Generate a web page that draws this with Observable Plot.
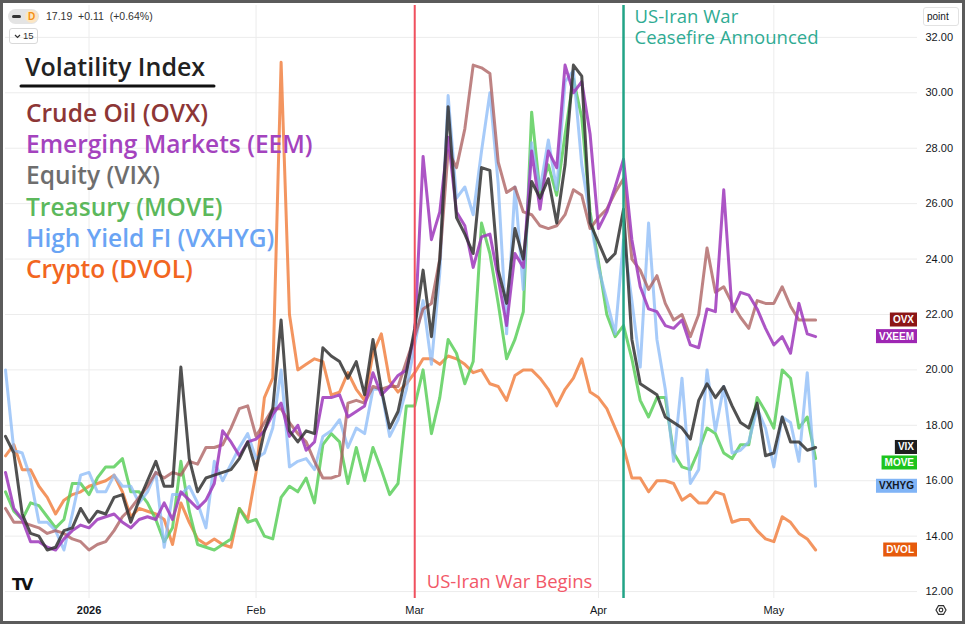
<!DOCTYPE html>
<html><head><meta charset="utf-8">
<script src="https://cdn.jsdelivr.net/npm/d3@7"></script>
<script src="https://cdn.jsdelivr.net/npm/@observablehq/plot@0.6"></script>
<style>
html,body{margin:0;padding:0;background:#fff;}
#wrap{position:relative;width:965px;height:624px;overflow:hidden;background:#fff;font-family:"Liberation Sans",Arial,sans-serif;color:#131722;}
#chart{position:absolute;left:0;top:0;}
.ui{position:absolute;}
#border{position:absolute;left:0;top:0;width:965px;height:624px;box-sizing:border-box;border:3px solid #5b5b5b;pointer-events:none;}
</style></head><body>
<div id="wrap">
<div id="chart"></div>
<div class="ui" style="left:8px;top:9px;width:31px;height:15px;border-radius:8px;background:#e4e4e4;"></div>
<div class="ui" style="left:12px;top:15px;width:9px;height:3px;border-radius:2px;background:#333;"></div>
<div class="ui" style="left:25px;top:10px;width:13px;height:13px;border-radius:7px;background:#fbe6c4;"></div>
<div class="ui" style="left:28px;top:10px;font-size:10px;font-weight:bold;color:#f59114;line-height:13px;">D</div>
<div class="ui" style="left:46px;top:10px;font-size:10.5px;color:#333;line-height:13px;white-space:pre;">17.19  +0.11  (+0.64%)</div>
<div class="ui" style="left:9px;top:28px;width:29px;height:16px;border:1px solid #d9d9d9;border-radius:3px;box-sizing:border-box;"></div>
<svg class="ui" style="left:14px;top:34px" width="7" height="5"><path d="M1 1 L3.5 3.5 L6 1" stroke="#333" stroke-width="1.2" fill="none"/></svg>
<div class="ui" style="left:23px;top:30px;font-size:9.5px;color:#333;line-height:12px;">15</div>
<div class="ui" style="left:923px;top:7px;width:36px;height:19px;border:1px solid #e2e2e2;border-radius:3px;box-sizing:border-box;font-size:10px;line-height:17px;padding-left:3px;color:#131722;">point</div>
<div id="border"></div>
</div>
<script>
// ---- data (trading-day index 0 = Dec 17 2025 ... 97 = May 8 2026) ----
const OVX = [15.0,14.5,14.5,14.4,14.3,14.1,14.2,14.1,13.9,13.8,
13.5,13.7,13.8,14.2,14.7,15.0,15.4,15.8,16.3,16.1,
16.3,16.2,16.7,16.6,17.2,17.2,17.3,17.9,18.6,18.7,
17.6,18.1,18.6,18.6,18.1,17.7,17.4,16.7,16.1,16.1,
16.2,18.8,18.9,18.8,19.4,19.3,19.4,19.4,20.3,21.2,
22.2,22.4,24.0,27.9,27.3,28.7,31.0,30.9,30.7,27.5,
26.4,26.6,25.7,25.6,25.2,25.1,25.2,25.6,26.5,26.3,
25.1,25.5,25.8,26.4,26.9,24.0,23.6,22.9,23.4,22.4,
21.8,22.0,21.2,22.0,24.4,22.8,23.0,22.4,21.9,21.5,
22.5,22.4,22.4,23.0,22.3,21.8,21.8,21.8];
const VXEEM = [16.3,15.0,14.6,13.8,13.8,13.6,13.5,13.9,14.2,14.4,
14.3,14.6,14.7,14.8,14.5,14.3,14.6,14.7,14.6,15.2,
14.6,15.6,15.3,15.0,15.3,15.9,17.8,17.4,16.9,17.4,
17.5,17.8,18.4,18.8,17.6,18.0,17.1,17.4,19.0,19.0,
19.1,18.3,18.5,18.7,19.9,19.1,19.4,19.8,20.0,21.3,
27.7,24.7,25.7,28.4,25.7,25.2,23.7,24.8,24.9,23.3,
21.6,24.2,23.7,27.9,25.8,27.9,27.3,31.0,30.0,30.4,
28.5,25.1,25.7,26.6,27.6,24.7,23.0,22.2,22.1,21.6,
21.5,21.8,20.9,20.8,22.2,22.1,26.5,22.1,22.8,22.7,
22.2,21.5,20.9,21.2,20.6,22.4,21.3,21.2];
const VIX = [17.6,17.0,14.8,14.1,14.0,13.5,13.6,14.2,14.3,15.0,
14.5,14.9,14.8,15.4,15.5,14.5,15.3,16.0,16.7,15.8,
15.8,20.1,16.8,15.6,16.1,16.2,16.3,16.4,16.8,17.4,
16.4,17.8,18.6,21.8,17.8,17.4,17.8,17.7,20.8,20.5,
20.3,19.7,20.3,19.1,21.1,19.3,17.9,18.5,19.9,21.5,
23.6,21.2,24.0,29.5,25.5,24.9,24.2,27.3,27.2,23.6,
22.4,25.1,24.0,26.8,26.2,26.9,25.3,27.4,31.0,30.6,
25.3,24.6,23.9,24.2,25.8,21.1,19.5,19.3,19.1,18.3,
18.1,17.9,17.5,18.9,19.5,19.0,19.4,18.7,18.1,17.9,
18.8,16.9,17.0,18.3,17.4,17.4,17.1,17.2];
const MOVE = [15.6,14.9,14.6,15.2,15.1,14.7,14.3,14.6,15.9,15.9,
15.5,16.1,16.5,16.5,16.8,15.6,15.6,15.2,14.6,13.8,
14.3,16.7,14.9,13.7,13.6,13.5,13.7,13.9,15.0,14.5,
14.6,14.0,13.9,15.4,15.8,15.6,16.1,15.2,17.3,17.7,
17.4,15.9,17.2,16.0,17.2,16.4,15.5,15.9,18.7,18.7,
20.0,17.7,19.0,21.1,20.6,19.5,20.3,25.3,24.2,22.4,
20.4,21.1,22.1,29.3,26.4,27.4,26.3,28.5,30.5,29.1,
25.7,23.9,22.0,21.2,21.6,20.4,18.9,18.3,19.0,19.0,
17.0,16.5,16.4,17.1,17.9,17.7,17.0,16.8,17.3,17.3,
19.0,18.5,17.9,20.0,19.7,17.9,18.3,16.8];
const VXHYG = [20.0,17.1,17.0,16.1,14.5,14.5,14.2,13.5,14.8,16.2,
16.3,15.6,15.6,16.2,15.8,15.8,15.2,15.6,16.3,13.6,
15.5,15.5,15.8,15.2,14.3,16.7,16.0,16.6,17.2,17.7,
16.8,17.0,17.9,20.0,16.5,16.7,16.8,16.4,17.6,17.8,
18.2,17.2,17.9,17.7,19.3,19.3,17.6,18.2,19.3,20.9,
22.5,20.2,23.5,29.9,26.2,26.6,25.6,27.9,30.0,26.7,
21.3,26.6,22.9,28.2,26.5,28.3,26.5,30.4,30.8,27.4,
25.5,23.7,22.5,21.3,24.7,22.5,20.1,25.3,21.1,19.3,
16.7,19.7,15.9,16.4,20.0,17.8,19.4,17.0,17.1,17.4,
18.6,17.9,16.5,18.3,18.1,16.7,19.9,15.8];
const DVOL = [16.9,17.3,16.4,16.4,15.8,15.4,14.8,15.3,15.5,15.6,
15.8,15.9,16.0,16.2,15.6,14.7,15.0,14.9,14.8,14.6,
13.7,15.2,14.5,13.9,13.7,13.9,13.7,13.6,15.0,14.6,
16.3,19.0,19.7,31.1,22.0,20.0,20.2,20.4,20.3,19.1,
19.2,19.9,19.3,18.9,20.6,21.3,19.6,19.2,19.5,19.9,
20.4,20.4,20.2,20.5,20.4,20.2,19.9,20.0,19.5,19.4,
18.9,19.8,20.0,20.0,19.7,19.3,18.7,19.3,19.7,20.4,
19.2,19.0,18.6,17.9,17.2,16.1,16.1,15.6,16.0,16.0,
15.9,15.3,15.5,15.2,15.2,15.6,15.5,14.5,14.6,14.6,
14.2,13.9,13.8,14.7,14.5,14.1,13.9,13.5];

const seriesValues = [OVX, VXEEM, VIX, MOVE, VXHYG, DVOL];
const seriesTags   = ["OVX","VXEEM","VIX","MOVE","VXHYG","DVOL"];
const legendNames  = ["Crude Oil (OVX)","Emerging Markets (EEM)","Equity (VIX)","Treasury (MOVE)","High Yield FI (VXHYG)","Crypto (DVOL)"];
const legendColors = ["#8d3636","#a443be","#6e6e6e","#5cb85c","#6aa4f4","#f2661f"];
const lineColors   = ["#a85a5a","#a03dbd","#333333","#5ccf5c","#8ab9f7","#f07a38"];
const lineOpacity  = [0.75,0.88,0.85,0.85,0.75,0.8];
const tagFill      = ["#8c1616","#9e27b3","#1e1e1e","#1dc41d","#80b4f6","#e65a0c"];
const tagText      = ["#fff","#fff","#fff","#fff","#131722","#fff"];
const drawOrder    = [5,3,4,0,1,2];

const monthTickIndex  = [10,30,49,71,92];
const monthTickLabels = ["2026","Feb","Mar","Apr","May"];
const yTicks = [12,14,16,18,20,22,24,26,28,30,32];

const eventIndex  = [49,74];
const eventLabels = ["US-Iran War Begins","US-Iran War\nCeasefire Announced"];
const eventLine   = ["#f0505e","#22a487"];
const eventText   = ["#f25868","#2fab93"];

const titleText = "Volatility Index";

// ---- chart ----
const chart = Plot.plot({
  width:965, height:624,
  marginLeft:5, marginRight:48, marginTop:5, marginBottom:26,
  style:{background:"transparent", fontFamily:"'Liberation Sans', Arial, sans-serif", fontSize:"11px", color:"#131722", overflow:"visible"},
  x:{domain:[0,109.2]},
  y:{domain:[11.75,33.15]},
  marks:[
    Plot.gridY(yTicks,{stroke:"#ececec", strokeOpacity:1}),
    Plot.gridX(monthTickIndex,{stroke:"#ececec", strokeOpacity:1}),
    Plot.axisY(yTicks,{anchor:"right", tickSize:0, tickPadding:8, tickFormat:d=>d.toFixed(2), fontSize:11}),
    Plot.axisX(monthTickIndex,{anchor:"bottom", tickSize:0, tickPadding:8, tickFormat:d=>monthTickLabels[monthTickIndex.indexOf(d)], fontSize:11}),
    ...drawOrder.map(k=>Plot.line(seriesValues[k],{x:(d,i)=>i, y:d=>d, stroke:lineColors[k], strokeWidth:3, strokeOpacity:lineOpacity[k], strokeLinejoin:"round", strokeLinecap:"round"})),
    Plot.ruleX([eventIndex[0]],{x:d=>d, stroke:eventLine[0], strokeWidth:2}),
    Plot.ruleX([eventIndex[1]],{x:d=>d, stroke:eventLine[1], strokeWidth:2.5}),
    Plot.text([eventIndex[0]],{x:d=>d, frameAnchor:"bottom", lineAnchor:"middle", dy:-16, dx:12, textAnchor:"start",
      text:()=>eventLabels[0], fill:eventText[0], fontSize:18.5, fontFamily:"'Open Sans',sans-serif"}),
    Plot.text([eventIndex[1]],{x:d=>d, frameAnchor:"top", lineAnchor:"top", dy:2, dx:11, textAnchor:"start", lineHeight:1.16,
      text:()=>eventLabels[1], fill:eventText[1], fontSize:18.5, fontWeight:500, fontFamily:"'Open Sans',sans-serif"})
  ]
});
document.getElementById("chart").appendChild(chart);

const svg = d3.select(chart);
const ys = chart.scale("y");
const xs = chart.scale("x");

// bold year label
svg.selectAll("text").filter(function(){return d3.select(this).text()==="2026";}).attr("font-weight","bold");

// last-value tags on the right edge
const tags = seriesTags.map((t,k)=>({k, t, y: ys.apply(seriesValues[k][seriesValues[k].length-1])})).sort((a,b)=>a.y-b.y);
for (let i=1;i<tags.length;i++) if (tags[i].y - tags[i-1].y < 15.5) tags[i].y = tags[i-1].y + 15.5;
const right = xs.apply(109.2);
const tg = svg.append("g").attr("text-anchor","start").attr("font-family","'Liberation Sans', Arial, sans-serif").attr("font-size",10).attr("font-weight","bold");
tags.forEach(d=>{
  const txt = tg.append("text").attr("y",d.y).attr("dy","0.35em").attr("fill",tagText[d.k]).text(d.t);
  const w = txt.node().getComputedTextLength();
  txt.attr("x", right-3-w);
  tg.insert("rect","text").attr("x",right-6-w).attr("y",d.y-7).attr("width",w+6).attr("height",14).attr("fill",tagFill[d.k]);
});

// title + legend
const lg = svg.append("g").attr("text-anchor","start").attr("font-family","'Open Sans',sans-serif");
lg.append("text").attr("x",25).attr("y",76).attr("font-size",25).attr("font-weight",600).attr("fill","#222").text(titleText);
lg.append("line").attr("x1",21).attr("x2",214).attr("y1",86).attr("y2",86).attr("stroke","#111").attr("stroke-width",3).attr("stroke-linecap","round");
legendNames.forEach((n,i)=>{
  lg.append("text").attr("x",26).attr("y",122+i*31.2).attr("font-size",24.5).attr("font-weight",600).attr("fill",legendColors[i]).text(n);
});

// TradingView logo and settings icon
const ui = svg.append("g").attr("text-anchor","start");
ui.append("text").attr("x",12).attr("y",590).attr("font-family","'DejaVu Sans',sans-serif").attr("font-weight","bold").attr("font-size",16).attr("letter-spacing",-2).attr("fill","#111").text("TV");
ui.append("path").attr("d","M936 610 l2.5 -4.3 h5 l2.5 4.3 l-2.5 4.3 h-5 z").attr("fill","none").attr("stroke","#333").attr("stroke-width",1.2);
ui.append("circle").attr("cx",941).attr("cy",610).attr("r",1.8).attr("fill","none").attr("stroke","#333").attr("stroke-width",1.2);
</script>
</body></html>
